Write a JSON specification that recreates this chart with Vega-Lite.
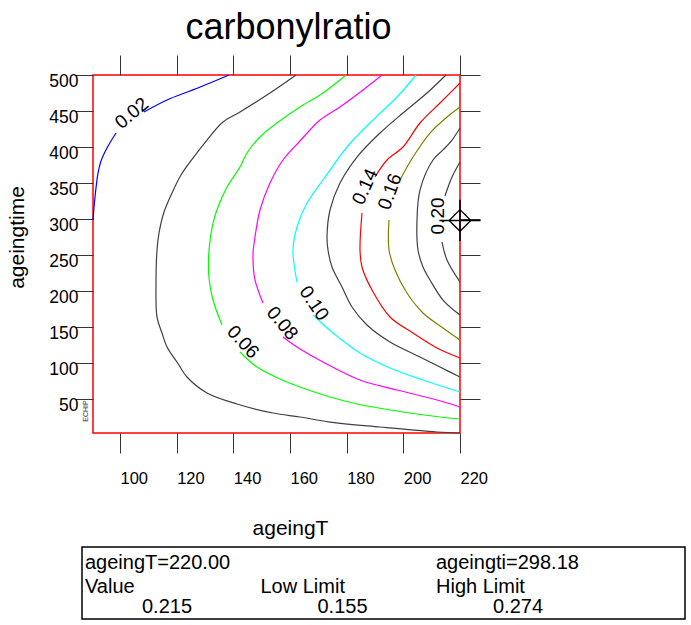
{
  "$schema": "https://vega.github.io/schema/vega-lite/v6.json",
  "background": "white",
  "padding": {"left": 5, "top": 8, "right": 5, "bottom": 2},
  "config": {
    "font": "Liberation Sans",
    "axis": {"grid": false, "domain": false, "tickColor": "#333", "tickWidth": 1, "labelColor": "#000", "titleColor": "#000", "labelFont": "Liberation Sans", "titleFont": "Liberation Sans", "titleFontWeight": "normal"},
    "text": {"font": "Liberation Sans", "color": "#000"}
  },
  "datasets": {
    "contours": [
      {"level":"0.02","seg":"0.02a","i":0,"ageingT":90.47,"ageingtime":298.8},
      {"level":"0.02","seg":"0.02a","i":1,"ageingT":91.18,"ageingtime":330.7},
      {"level":"0.02","seg":"0.02a","i":2,"ageingT":92.24,"ageingtime":364.0},
      {"level":"0.02","seg":"0.02a","i":3,"ageingT":93.30,"ageingtime":380.7},
      {"level":"0.02","seg":"0.02a","i":4,"ageingT":95.41,"ageingtime":398.7},
      {"level":"0.02","seg":"0.02a","i":5,"ageingT":98.59,"ageingtime":419.5},
      {"level":"0.02","seg":"0.02b","i":0,"ageingT":108.47,"ageingtime":448.7},
      {"level":"0.02","seg":"0.02b","i":1,"ageingT":116.59,"ageingtime":465.3},
      {"level":"0.02","seg":"0.02b","i":2,"ageingT":124.71,"ageingtime":477.8},
      {"level":"0.02","seg":"0.02b","i":3,"ageingT":131.77,"ageingtime":488.9},
      {"level":"0.02","seg":"0.02b","i":4,"ageingT":138.47,"ageingtime":500},
      {"level":"0.04","seg":"0.04","i":0,"ageingT":162.12,"ageingtime":500},
      {"level":"0.04","seg":"0.04","i":1,"ageingT":152.94,"ageingtime":475.0},
      {"level":"0.04","seg":"0.04","i":2,"ageingT":142.35,"ageingtime":448.7},
      {"level":"0.04","seg":"0.04","i":3,"ageingT":136.35,"ageingtime":434.8},
      {"level":"0.04","seg":"0.04","i":4,"ageingT":130.71,"ageingtime":409.8},
      {"level":"0.04","seg":"0.04","i":5,"ageingT":125.77,"ageingtime":384.8},
      {"level":"0.04","seg":"0.04","i":6,"ageingT":121.53,"ageingtime":361.2},
      {"level":"0.04","seg":"0.04","i":7,"ageingT":118.36,"ageingtime":336.3},
      {"level":"0.04","seg":"0.04","i":8,"ageingT":115.53,"ageingtime":309.9},
      {"level":"0.04","seg":"0.04","i":9,"ageingT":113.77,"ageingtime":280.8},
      {"level":"0.04","seg":"0.04","i":10,"ageingT":113.06,"ageingtime":257.2},
      {"level":"0.04","seg":"0.04","i":11,"ageingT":112.71,"ageingtime":211.4},
      {"level":"0.04","seg":"0.04","i":12,"ageingT":113.06,"ageingtime":164.2},
      {"level":"0.04","seg":"0.04","i":13,"ageingT":114.82,"ageingtime":142.0},
      {"level":"0.04","seg":"0.04","i":14,"ageingT":116.59,"ageingtime":122.6},
      {"level":"0.04","seg":"0.04","i":15,"ageingT":120.12,"ageingtime":101.8},
      {"level":"0.04","seg":"0.04","i":16,"ageingT":123.65,"ageingtime":81.0},
      {"level":"0.04","seg":"0.04","i":17,"ageingT":130.71,"ageingtime":58.8},
      {"level":"0.04","seg":"0.04","i":18,"ageingT":141.29,"ageingtime":43.5},
      {"level":"0.04","seg":"0.04","i":19,"ageingT":153.99,"ageingtime":31.0},
      {"level":"0.04","seg":"0.04","i":20,"ageingT":163.53,"ageingtime":25.5},
      {"level":"0.04","seg":"0.04","i":21,"ageingT":174.12,"ageingtime":18.5},
      {"level":"0.04","seg":"0.04","i":22,"ageingT":191.77,"ageingtime":11.6},
      {"level":"0.04","seg":"0.04","i":23,"ageingT":211.89,"ageingtime":4.7},
      {"level":"0.04","seg":"0.04","i":24,"ageingT":220,"ageingtime":3.3},
      {"level":"0.06","seg":"0.06a","i":0,"ageingT":179.77,"ageingtime":500},
      {"level":"0.06","seg":"0.06a","i":1,"ageingT":171.65,"ageingtime":475.0},
      {"level":"0.06","seg":"0.06a","i":2,"ageingT":163.53,"ageingtime":455.6},
      {"level":"0.06","seg":"0.06a","i":3,"ageingT":155.41,"ageingtime":433.4},
      {"level":"0.06","seg":"0.06a","i":4,"ageingT":149.41,"ageingtime":414.0},
      {"level":"0.06","seg":"0.06a","i":5,"ageingT":144.82,"ageingtime":391.8},
      {"level":"0.06","seg":"0.06a","i":6,"ageingT":142.35,"ageingtime":372.3},
      {"level":"0.06","seg":"0.06a","i":7,"ageingT":137.77,"ageingtime":344.6},
      {"level":"0.06","seg":"0.06a","i":8,"ageingT":134.59,"ageingtime":316.8},
      {"level":"0.06","seg":"0.06a","i":9,"ageingT":132.82,"ageingtime":294.6},
      {"level":"0.06","seg":"0.06a","i":10,"ageingT":131.41,"ageingtime":257.2},
      {"level":"0.06","seg":"0.06a","i":11,"ageingT":131.41,"ageingtime":218.3},
      {"level":"0.06","seg":"0.06a","i":12,"ageingT":132.82,"ageingtime":187.8},
      {"level":"0.06","seg":"0.06a","i":13,"ageingT":136.0,"ageingtime":153.1},
      {"level":"0.06","seg":"0.06b","i":0,"ageingT":142.35,"ageingtime":115.7},
      {"level":"0.06","seg":"0.06b","i":1,"ageingT":148.35,"ageingtime":94.8},
      {"level":"0.06","seg":"0.06b","i":2,"ageingT":156.47,"ageingtime":78.2},
      {"level":"0.06","seg":"0.06b","i":3,"ageingT":163.53,"ageingtime":67.1},
      {"level":"0.06","seg":"0.06b","i":4,"ageingT":174.12,"ageingtime":53.2},
      {"level":"0.06","seg":"0.06b","i":5,"ageingT":183.65,"ageingtime":43.5},
      {"level":"0.06","seg":"0.06b","i":6,"ageingT":199.88,"ageingtime":32.4},
      {"level":"0.06","seg":"0.06b","i":7,"ageingT":212.94,"ageingtime":25.5},
      {"level":"0.06","seg":"0.06b","i":8,"ageingT":220,"ageingtime":22.7},
      {"level":"0.08","seg":"0.08a","i":0,"ageingT":192.47,"ageingtime":500},
      {"level":"0.08","seg":"0.08a","i":1,"ageingT":185.76,"ageingtime":479.2},
      {"level":"0.08","seg":"0.08a","i":2,"ageingT":177.65,"ageingtime":455.6},
      {"level":"0.08","seg":"0.08a","i":3,"ageingT":170.59,"ageingtime":437.6},
      {"level":"0.08","seg":"0.08a","i":4,"ageingT":163.53,"ageingtime":408.4},
      {"level":"0.08","seg":"0.08a","i":5,"ageingT":157.53,"ageingtime":382.1},
      {"level":"0.08","seg":"0.08a","i":6,"ageingT":152.94,"ageingtime":350.2},
      {"level":"0.08","seg":"0.08a","i":7,"ageingT":149.41,"ageingtime":312.7},
      {"level":"0.08","seg":"0.08a","i":8,"ageingT":147.65,"ageingtime":275.2},
      {"level":"0.08","seg":"0.08a","i":9,"ageingT":146.94,"ageingtime":250.3},
      {"level":"0.08","seg":"0.08a","i":10,"ageingT":147.65,"ageingtime":215.6},
      {"level":"0.08","seg":"0.08a","i":11,"ageingT":150.47,"ageingtime":183.7},
      {"level":"0.08","seg":"0.08b","i":0,"ageingT":157.53,"ageingtime":136.5},
      {"level":"0.08","seg":"0.08b","i":1,"ageingT":162.47,"ageingtime":122.6},
      {"level":"0.08","seg":"0.08b","i":2,"ageingT":171.65,"ageingtime":101.8},
      {"level":"0.08","seg":"0.08b","i":3,"ageingT":184.71,"ageingtime":76.8},
      {"level":"0.08","seg":"0.08b","i":4,"ageingT":197.77,"ageingtime":62.9},
      {"level":"0.08","seg":"0.08b","i":5,"ageingT":211.89,"ageingtime":49.1},
      {"level":"0.08","seg":"0.08b","i":6,"ageingT":220,"ageingtime":39.4},
      {"level":"0.10","seg":"0.10a","i":0,"ageingT":204.47,"ageingtime":500},
      {"level":"0.10","seg":"0.10a","i":1,"ageingT":197.77,"ageingtime":469.5},
      {"level":"0.10","seg":"0.10a","i":2,"ageingT":189.3,"ageingtime":437.6},
      {"level":"0.10","seg":"0.10a","i":3,"ageingT":180.12,"ageingtime":400.1},
      {"level":"0.10","seg":"0.10a","i":4,"ageingT":171.65,"ageingtime":354.3},
      {"level":"0.10","seg":"0.10a","i":5,"ageingT":166.0,"ageingtime":322.4},
      {"level":"0.10","seg":"0.10a","i":6,"ageingT":162.47,"ageingtime":289.1},
      {"level":"0.10","seg":"0.10a","i":7,"ageingT":161.06,"ageingtime":257.2},
      {"level":"0.10","seg":"0.10a","i":8,"ageingT":162.47,"ageingtime":212.8},
      {"level":"0.10","seg":"0.10b","i":0,"ageingT":168.12,"ageingtime":167.0},
      {"level":"0.10","seg":"0.10b","i":1,"ageingT":175.18,"ageingtime":142.0},
      {"level":"0.10","seg":"0.10b","i":2,"ageingT":184.71,"ageingtime":114.3},
      {"level":"0.10","seg":"0.10b","i":3,"ageingT":195.3,"ageingtime":93.5},
      {"level":"0.10","seg":"0.10b","i":4,"ageingT":206.94,"ageingtime":76.8},
      {"level":"0.10","seg":"0.10b","i":5,"ageingT":220,"ageingtime":60.2},
      {"level":"0.12","seg":"0.12","i":0,"ageingT":215.06,"ageingtime":500},
      {"level":"0.12","seg":"0.12","i":1,"ageingT":208.35,"ageingtime":475.0},
      {"level":"0.12","seg":"0.12","i":2,"ageingT":199.88,"ageingtime":447.3},
      {"level":"0.12","seg":"0.12","i":3,"ageingT":191.77,"ageingtime":419.5},
      {"level":"0.12","seg":"0.12","i":4,"ageingT":183.65,"ageingtime":386.2},
      {"level":"0.12","seg":"0.12","i":5,"ageingT":177.65,"ageingtime":350.2},
      {"level":"0.12","seg":"0.12","i":6,"ageingT":174.12,"ageingtime":312.7},
      {"level":"0.12","seg":"0.12","i":7,"ageingT":173.06,"ageingtime":275.2},
      {"level":"0.12","seg":"0.12","i":8,"ageingT":173.41,"ageingtime":257.2},
      {"level":"0.12","seg":"0.12","i":9,"ageingT":174.82,"ageingtime":233.6},
      {"level":"0.12","seg":"0.12","i":10,"ageingT":178.35,"ageingtime":205.9},
      {"level":"0.12","seg":"0.12","i":11,"ageingT":181.88,"ageingtime":178.1},
      {"level":"0.12","seg":"0.12","i":12,"ageingT":187.18,"ageingtime":153.1},
      {"level":"0.12","seg":"0.12","i":13,"ageingT":195.3,"ageingtime":129.5},
      {"level":"0.12","seg":"0.12","i":14,"ageingT":205.88,"ageingtime":108.7},
      {"level":"0.12","seg":"0.12","i":15,"ageingT":212.94,"ageingtime":94.8},
      {"level":"0.12","seg":"0.12","i":16,"ageingT":220,"ageingtime":81.0},
      {"level":"0.14","seg":"0.14a","i":0,"ageingT":220,"ageingtime":488.9},
      {"level":"0.14","seg":"0.14a","i":1,"ageingT":212.94,"ageingtime":461.1},
      {"level":"0.14","seg":"0.14a","i":2,"ageingT":205.88,"ageingtime":433.4},
      {"level":"0.14","seg":"0.14a","i":3,"ageingT":199.88,"ageingtime":400.1},
      {"level":"0.14","seg":"0.14a","i":4,"ageingT":194.24,"ageingtime":382.1},
      {"level":"0.14","seg":"0.14a","i":5,"ageingT":190.0,"ageingtime":358.5},
      {"level":"0.14","seg":"0.14b","i":0,"ageingT":185.41,"ageingtime":308.5},
      {"level":"0.14","seg":"0.14b","i":1,"ageingT":184.71,"ageingtime":257.2},
      {"level":"0.14","seg":"0.14b","i":2,"ageingT":185.41,"ageingtime":233.6},
      {"level":"0.14","seg":"0.14b","i":3,"ageingT":188.94,"ageingtime":201.7},
      {"level":"0.14","seg":"0.14b","i":4,"ageingT":195.3,"ageingtime":164.2},
      {"level":"0.14","seg":"0.14b","i":5,"ageingT":203.41,"ageingtime":142.0},
      {"level":"0.14","seg":"0.14b","i":6,"ageingT":211.89,"ageingtime":121.2},
      {"level":"0.14","seg":"0.14b","i":7,"ageingT":220,"ageingtime":107.3},
      {"level":"0.16","seg":"0.16a","i":0,"ageingT":220,"ageingtime":455.6},
      {"level":"0.16","seg":"0.16a","i":1,"ageingT":215.41,"ageingtime":441.7},
      {"level":"0.16","seg":"0.16a","i":2,"ageingT":209.41,"ageingtime":419.5},
      {"level":"0.16","seg":"0.16a","i":3,"ageingT":203.41,"ageingtime":386.2},
      {"level":"0.16","seg":"0.16a","i":4,"ageingT":198.82,"ageingtime":354.3},
      {"level":"0.16","seg":"0.16b","i":0,"ageingT":194.94,"ageingtime":298.8},
      {"level":"0.16","seg":"0.16b","i":1,"ageingT":194.94,"ageingtime":257.2},
      {"level":"0.16","seg":"0.16b","i":2,"ageingT":197.06,"ageingtime":229.4},
      {"level":"0.16","seg":"0.16b","i":3,"ageingT":201.29,"ageingtime":197.5},
      {"level":"0.16","seg":"0.16b","i":4,"ageingT":206.94,"ageingtime":169.8},
      {"level":"0.16","seg":"0.16b","i":5,"ageingT":214.0,"ageingtime":149.0},
      {"level":"0.16","seg":"0.16b","i":6,"ageingT":220,"ageingtime":132.3},
      {"level":"0.18","seg":"0.18","i":0,"ageingT":220,"ageingtime":426.5},
      {"level":"0.18","seg":"0.18","i":1,"ageingT":217.18,"ageingtime":409.8},
      {"level":"0.18","seg":"0.18","i":2,"ageingT":214.0,"ageingtime":396.0},
      {"level":"0.18","seg":"0.18","i":3,"ageingT":210.47,"ageingtime":382.1},
      {"level":"0.18","seg":"0.18","i":4,"ageingT":205.88,"ageingtime":340.4},
      {"level":"0.18","seg":"0.18","i":5,"ageingT":204.82,"ageingtime":298.8},
      {"level":"0.18","seg":"0.18","i":6,"ageingT":205.18,"ageingtime":257.2},
      {"level":"0.18","seg":"0.18","i":7,"ageingT":206.94,"ageingtime":233.6},
      {"level":"0.18","seg":"0.18","i":8,"ageingT":209.41,"ageingtime":215.6},
      {"level":"0.18","seg":"0.18","i":9,"ageingT":214.0,"ageingtime":187.8},
      {"level":"0.18","seg":"0.18","i":10,"ageingT":220,"ageingtime":167.0},
      {"level":"0.20","seg":"0.20a","i":0,"ageingT":220,"ageingtime":379.3},
      {"level":"0.20","seg":"0.20a","i":1,"ageingT":217.18,"ageingtime":358.5},
      {"level":"0.20","seg":"0.20a","i":2,"ageingT":215.41,"ageingtime":340.4},
      {"level":"0.20","seg":"0.20a","i":3,"ageingT":214.71,"ageingtime":332.1},
      {"level":"0.20","seg":"0.20b","i":0,"ageingT":213.65,"ageingtime":268.3},
      {"level":"0.20","seg":"0.20b","i":1,"ageingT":215.41,"ageingtime":243.3},
      {"level":"0.20","seg":"0.20b","i":2,"ageingT":220,"ageingtime":212.8}
    ],
    "labels": [
      {"label":"0.02","ageingT":104.13,"ageingtime":446.9},
      {"label":"0.06","ageingT":143.41,"ageingtime":129.5},
      {"label":"0.08","ageingT":157.29,"ageingtime":155.5},
      {"label":"0.10","ageingT":168.47,"ageingtime":183.2},
      {"label":"0.14","ageingT":186.47,"ageingtime":345.0},
      {"label":"0.16","ageingT":195.3,"ageingtime":338.1},
      {"label":"0.20","ageingT":212.34,"ageingtime":304.4}
    ],
    "marker": [{"ageingT":220,"ageingtime":298.18}],
    "notes": [{"note":"ECHIP","ageingT":87.83,"ageingtime":33.8}],
    "info": [
      {"col":0,"row":0,"text":"ageingT=220.00"},
      {"col":2,"row":0,"text":"ageingti=298.18"},
      {"col":0,"row":1,"text":"Value"},
      {"col":1,"row":1,"text":"Low Limit"},
      {"col":2,"row":1,"text":"High Limit"},
      {"col":0,"row":2,"text":"0.215"},
      {"col":1,"row":2,"text":"0.155"},
      {"col":2,"row":2,"text":"0.274"}
    ]
  },
  "vconcat": [
    {
      "width": 367,
      "height": 358,
      "view": {"stroke": "#ff0000", "strokeWidth": 1.5},
      "title": {"text": "carbonylratio", "fontSize": 36, "fontWeight": "normal", "font": "Liberation Sans", "color": "#000", "anchor": "middle", "dx": 12, "offset": 8},
      "layer": [
        {
          "data": {"name": "contours"},
          "mark": {"type": "line", "strokeWidth": 1.2, "interpolate": "catmull-rom"},
          "encoding": {
            "x": {"field": "ageingT", "type": "quantitative", "scale": {"domain": [90.47, 220], "nice": false, "zero": false},
              "axis": {"orient": "bottom", "values": [100,120,140,160,180,200,220], "tickSize": 20, "labelAlign": "left", "labelBaseline": "top", "labelPadding": 17.5, "labelFontSize": 16.5, "labelFlush": false, "labelOverlap": false, "title": "ageingT", "titleFontSize": 21, "titleX": 197, "titleY": 84, "titleAlign": "center", "titleBaseline": "top"}},
            "y": {"field": "ageingtime", "type": "quantitative", "scale": {"domain": [3.3, 500], "nice": false, "zero": false},
              "axis": {"orient": "left", "values": [50,100,150,200,250,300,350,400,450,500], "tickSize": 18, "labelPadding": -3, "labelAlign": "right", "labelBaseline": "middle", "labelOffset": 6, "labelFontSize": 17.5, "labelFlush": false, "labelOverlap": false, "title": "ageingtime", "titleFontSize": 21, "titleAngle": 270, "titleX": -76, "titleY": 162, "titleAlign": "center", "titleBaseline": "middle"}},
            "color": {"field": "level", "type": "nominal", "legend": null,
              "scale": {"domain": ["0.02","0.04","0.06","0.08","0.10","0.12","0.14","0.16","0.18","0.20"], "range": ["#0000ff","#404040","#00ff00","#ff00ff","#00ffff","#404040","#ff0000","#808000","#404040","#404040"]}},
            "detail": {"field": "seg"},
            "order": {"field": "i", "type": "quantitative"}
          }
        },
        {
          "data": {"name": "labels"},
          "mark": {"type": "text", "fontSize": 19, "align": "center", "baseline": "middle"},
          "encoding": {
            "x": {"field": "ageingT", "type": "quantitative", "scale": {"domain": [90.47, 220], "nice": false, "zero": false}, "axis": null},
            "y": {"field": "ageingtime", "type": "quantitative", "scale": {"domain": [3.3, 500], "nice": false, "zero": false}, "axis": null},
            "text": {"field": "label"},
            "angle": {"field": "label", "type": "nominal", "legend": null, "scale": {"type": "ordinal", "domain": ["0.02","0.06","0.08","0.10","0.14","0.16","0.20"], "range": [320, 47, 50, 56, 294, 290, 270]}}
          }
        },
        {
          "data": {"name": "notes"},
          "mark": {"type": "text", "fontSize": 7, "angle": 270, "align": "center", "baseline": "middle", "color": "#333"},
          "encoding": {
            "x": {"field": "ageingT", "type": "quantitative", "scale": {"domain": [90.47, 220], "nice": false, "zero": false}, "axis": null},
            "y": {"field": "ageingtime", "type": "quantitative", "scale": {"domain": [3.3, 500], "nice": false, "zero": false}, "axis": null},
            "text": {"field": "note"}
          }
        },
        {
          "data": {"name": "marker"},
          "mark": {"type": "point", "shape": "M0,-1L1,0L0,1L-1,0Z", "size": 470, "filled": false, "color": "#000", "strokeWidth": 1.3, "opacity": 1},
          "encoding": {
            "x": {"field": "ageingT", "type": "quantitative", "scale": {"domain": [90.47, 220], "nice": false, "zero": false},
              "axis": {"orient": "top", "values": [100,120,140,160,180,200,220], "tickSize": 20, "labels": false, "title": null}},
            "y": {"field": "ageingtime", "type": "quantitative", "scale": {"domain": [3.3, 500], "nice": false, "zero": false},
              "axis": {"orient": "right", "values": [50,100,150,200,250,300,350,400,450,500], "tickSize": 20, "labels": false, "title": null}}
          }
        },
        {
          "data": {"name": "marker"},
          "mark": {"type": "point", "shape": "M-1,0L1,0M0,-1L0,1", "size": 1700, "filled": false, "color": "#000", "strokeWidth": 1.6, "opacity": 1},
          "encoding": {
            "x": {"field": "ageingT", "type": "quantitative", "scale": {"domain": [90.47, 220], "nice": false, "zero": false}, "axis": null},
            "y": {"field": "ageingtime", "type": "quantitative", "scale": {"domain": [3.3, 500], "nice": false, "zero": false}, "axis": null}
          }
        }
      ],
      "resolve": {"axis": {"x": "independent", "y": "independent"}}
    },
    {
      "width": 592,
      "height": 72,
      "view": {"stroke": null},
      "layer": [
        {
          "data": {"values": [{}]},
          "mark": {"type": "rect", "filled": false, "color": "#000", "strokeWidth": 1.5},
          "encoding": {
            "x": {"datum": 0, "type": "quantitative", "scale": {"domain": [0, 3.4359], "range": [-11, 592]}, "axis": null},
            "x2": {"datum": 3.4359},
            "y": {"datum": -1.3, "type": "quantitative", "scale": {"domain": [-1.3, 2.3], "reverse": true, "nice": false, "zero": false}, "axis": null},
            "y2": {"datum": 2.3}
          }
        },
        {
          "data": {"name": "info"},
          "transform": [{"filter": "datum.row == 0"}],
          "mark": {"type": "text", "align": "left", "baseline": "alphabetic", "dx": 3, "dy": -4, "fontSize": 20},
          "encoding": {
            "x": {"field": "col", "type": "quantitative", "scale": {"domain": [0, 3.4359], "range": [-11, 592]}, "axis": null},
            "y": {"field": "row", "type": "quantitative", "scale": {"domain": [-1.3, 2.3], "reverse": true, "nice": false, "zero": false}, "axis": null},
            "text": {"field": "text"}
          }
        },
        {
          "data": {"name": "info"},
          "transform": [{"filter": "datum.row == 1"}],
          "mark": {"type": "text", "align": "left", "baseline": "alphabetic", "dx": 3, "fontSize": 20},
          "encoding": {
            "x": {"field": "col", "type": "quantitative", "scale": {"domain": [0, 3.4359], "range": [-11, 592]}, "axis": null},
            "y": {"field": "row", "type": "quantitative", "scale": {"domain": [-1.3, 2.3], "reverse": true, "nice": false, "zero": false}, "axis": null},
            "text": {"field": "text"}
          }
        },
        {
          "data": {"name": "info"},
          "transform": [{"filter": "datum.row == 2"}],
          "mark": {"type": "text", "align": "left", "baseline": "alphabetic", "dx": 60, "fontSize": 20},
          "encoding": {
            "x": {"field": "col", "type": "quantitative", "scale": {"domain": [0, 3.4359], "range": [-11, 592]}, "axis": null},
            "y": {"field": "row", "type": "quantitative", "scale": {"domain": [-1.3, 2.3], "reverse": true, "nice": false, "zero": false}, "axis": null},
            "text": {"field": "text"}
          }
        }
      ]
    }
  ],
  "spacing": 7
}
